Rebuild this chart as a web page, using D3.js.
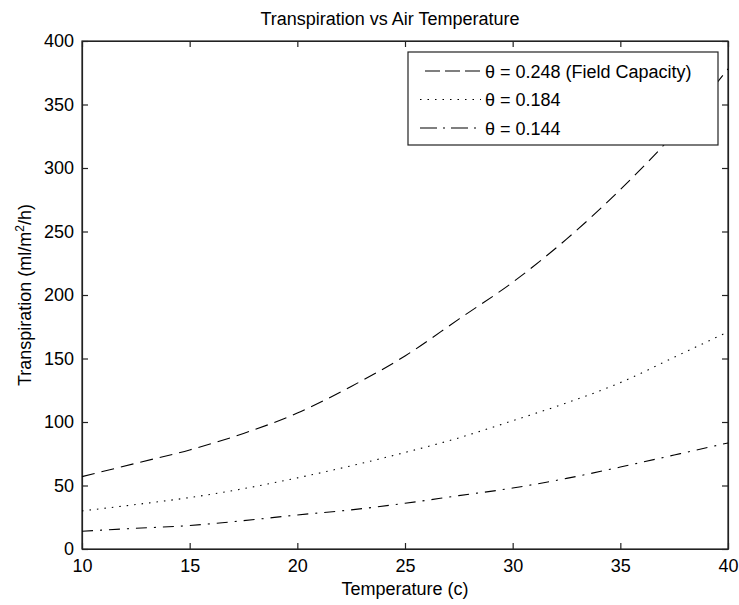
<!DOCTYPE html>
<html>
<head>
<meta charset="utf-8">
<script src="https://cdn.jsdelivr.net/npm/d3@7"></script>
<style>
  html, body { margin: 0; padding: 0; background: #fff; }
  svg { display: block; }
  text { font-family: "Liberation Sans", Arial, sans-serif; fill: #000; }
</style>
</head>
<body>
<svg id="chart" width="739" height="605"></svg>
<script>
const temperatures = [10, 12.5, 15, 17.5, 20, 22.5, 25, 27.5, 30, 32.5, 35, 37.5, 40];
const seriesFieldCapacity = [57, 67.5, 78, 91, 107, 128, 152, 181, 210, 244, 283, 327, 378];
const series184 = [30, 35, 40.5, 47.5, 56, 65.5, 76, 87.5, 101, 115, 131, 151, 171];
const series144 = [14, 16.3, 18.5, 22.3, 26.8, 30.8, 36, 42, 48, 55.6, 64.5, 74, 83.5];
const seriesLabels = ["\u03b8 = 0.248 (Field Capacity)", "\u03b8 = 0.184", "\u03b8 = 0.144"];
const xTicks = [10, 15, 20, 25, 30, 35, 40];
const yTicks = [0, 50, 100, 150, 200, 250, 300, 350, 400];

const titleText = "Transpiration vs Air Temperature";
const xLabelText = "Temperature (c)";

const svg = d3.select("#chart");
const m = { left: 82, right: 728, top: 41, bottom: 549 };
const x = d3.scaleLinear().domain([10, 40]).range([m.left, m.right]);
const y = d3.scaleLinear().domain([0, 400]).range([m.bottom, m.top]);

const FS = 18;

// axes box
svg.append("rect")
  .attr("x", m.left).attr("y", m.top)
  .attr("width", m.right - m.left).attr("height", m.bottom - m.top)
  .attr("fill", "#fff").attr("stroke", "#222").attr("stroke-width", 1.2);

const tickLen = 6;
const axB = svg.append("g").attr("transform", `translate(0,${m.bottom})`)
  .call(d3.axisBottom(x).tickValues(xTicks).tickSizeInner(-tickLen).tickSizeOuter(0).tickPadding(10));
const axT = svg.append("g").attr("transform", `translate(0,${m.top})`)
  .call(d3.axisTop(x).tickValues(xTicks).tickSizeInner(-tickLen).tickSizeOuter(0).tickFormat(""));
const axL = svg.append("g").attr("transform", `translate(${m.left},0)`)
  .call(d3.axisLeft(y).tickValues(yTicks).tickSizeInner(-tickLen).tickSizeOuter(0).tickPadding(8));
const axR = svg.append("g").attr("transform", `translate(${m.right},0)`)
  .call(d3.axisRight(y).tickValues(yTicks).tickSizeInner(-tickLen).tickSizeOuter(0).tickFormat(""));
[axB, axT, axL, axR].forEach(g => {
  g.select(".domain").attr("stroke", "#222").attr("stroke-width", 1.2);
  g.selectAll(".tick line").attr("stroke", "#222").attr("stroke-width", 1.2);
  g.selectAll("text").attr("font-size", FS).attr("font-family", "Liberation Sans, Arial, sans-serif").attr("fill", "#111");
});

// series lines
const styles = ["13,7", "1.5,6", "11,7,2,7"];
const allSeries = [seriesFieldCapacity, series184, series144];
const line = d3.line().x(d => x(d[0])).y(d => y(d[1])).curve(d3.curveMonotoneX);
allSeries.forEach((s, i) => {
  svg.append("path")
    .datum(temperatures.map((t, j) => [t, s[j]]))
    .attr("d", line)
    .attr("fill", "none")
    .attr("stroke", "#000")
    .attr("stroke-width", 1.1)
    .attr("stroke-dasharray", styles[i]);
});

// legend
const lg = svg.append("g");
lg.append("rect").attr("x", 408).attr("y", 52).attr("width", 310).attr("height", 93)
  .attr("fill", "#fff").attr("stroke", "#222").attr("stroke-width", 1.2);
const legStyles = ["15,5", "1.5,6", "17,6,2,6"];
const legStart = [425, 420, 420];
const rowsY = [71, 99.5, 128];
seriesLabels.forEach((lab, i) => {
  lg.append("line").attr("x1", legStart[i]).attr("x2", 481)
    .attr("y1", rowsY[i]).attr("y2", rowsY[i])
    .attr("stroke", "#000").attr("stroke-width", 1.2)
    .attr("stroke-dasharray", legStyles[i]);
  lg.append("text").attr("x", 485).attr("y", rowsY[i] + 6.5)
    .attr("font-size", FS).text(lab);
});

// title
svg.append("text").attr("x", 390).attr("y", 25)
  .attr("text-anchor", "middle").attr("font-size", FS).text(titleText);

// x label
svg.append("text").attr("x", (m.left + m.right) / 2).attr("y", 595)
  .attr("text-anchor", "middle").attr("font-size", FS).text(xLabelText);

// y label
const yl = svg.append("text")
  .attr("transform", `translate(31,${(m.top + m.bottom) / 2}) rotate(-90)`)
  .attr("text-anchor", "middle").attr("font-size", FS);
yl.append("tspan").text("Transpiration (ml/m");
yl.append("tspan").attr("dy", -7).attr("font-size", 12).text("2");
yl.append("tspan").attr("dy", 7).text("/h)");
</script>
</body>
</html>
